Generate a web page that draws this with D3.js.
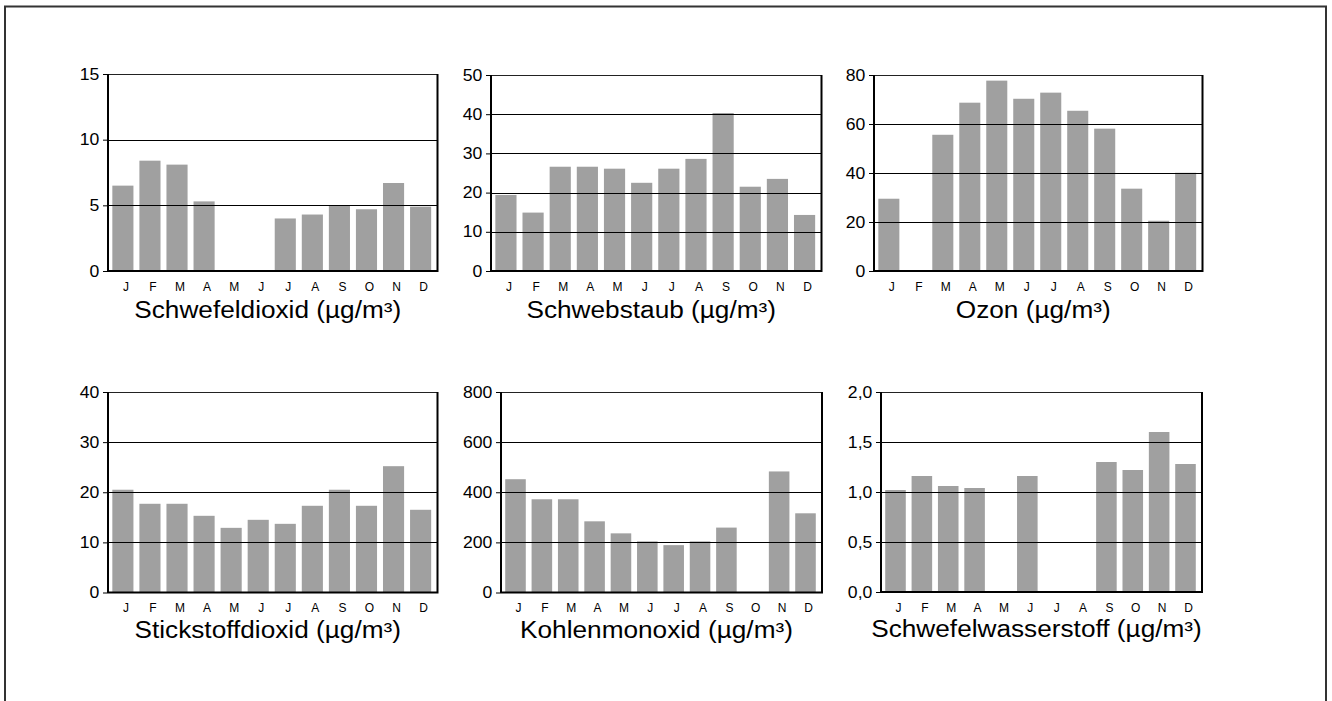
<!DOCTYPE html>
<html>
<head>
<meta charset="utf-8">
<script src="https://cdn.jsdelivr.net/npm/d3@7"></script>
<style>
  body { margin: 0; background: #fff; }
  svg { display: block; font-family: "Liberation Sans", Arial, sans-serif; }
</style>
</head>
<body>
<svg id="chart" width="1332" height="701"></svg>
<script>
// months on every x axis
var months = ["J", "F", "M", "A", "M", "J", "J", "A", "S", "O", "N", "D"];

// monthly means, null = no measurement
var schwefeldioxid = [6.5, 8.4, 8.1, 5.3, null, null, 4.0, 4.3, 5.0, 4.7, 6.7, 4.9];
var schwebstaub = [19.4, 14.9, 26.6, 26.6, 26.1, 22.5, 26.1, 28.6, 40.3, 21.5, 23.5, 14.3];
var ozon = [29.5, null, 55.6, 68.7, 77.7, 70.3, 72.8, 65.4, 58.1, 33.6, 20.5, 40.1];
var stickstoffdioxid = [20.5, 17.7, 17.7, 15.3, 12.9, 14.5, 13.7, 17.3, 20.5, 17.3, 25.2, 16.5];
var kohlenmonoxid = [452, 372, 372, 284, 236, 204, 189, 204, 259, null, 483, 316];
var schwefelwasserstoff = [1.02, 1.16, 1.06, 1.04, null, 1.16, null, null, 1.30, 1.22, 1.60, 1.28];

var titles = ["Schwefeldioxid (µg/m³)", "Schwebstaub (µg/m³)", "Ozon (µg/m³)",
  "Stickstoffdioxid (µg/m³)", "Kohlenmonoxid (µg/m³)", "Schwefelwasserstoff (µg/m³)"];
var yMax = [15, 50, 80, 40, 800, 2];
var yStep = [5, 10, 20, 10, 200, 0.5];

var series = [schwefeldioxid, schwebstaub, ozon, stickstoffdioxid, kohlenmonoxid, schwefelwasserstoff];

// plot boxes of the six panels
var boxes = [
  {x0: 108, x1: 437.5, y0: 74, y1: 271},
  {x0: 491, x1: 821.5, y0: 75, y1: 271},
  {x0: 874, x1: 1202.5, y0: 75, y1: 271},
  {x0: 108, x1: 437.5, y0: 392, y1: 592.5},
  {x0: 501, x1: 822, y0: 392, y1: 592.5},
  {x0: 881, x1: 1202, y0: 392, y1: 592}
];

var de = d3.formatLocale({decimal: ",", thousands: ".", grouping: [3], currency: ["", " €"]});

var svg = d3.select("#chart");

// outer frame, bottom edge runs off the page
svg.append("path")
  .attr("d", "M5,720 V6.5 H1326 V720")
  .attr("fill", "none")
  .attr("stroke", "#333")
  .attr("stroke-width", 2);

var titleNodes = [];

series.forEach(function(values, i){
  var b = boxes[i];
  var g = svg.append("g");

  var x = d3.scaleBand()
    .domain(d3.range(12))
    .range([b.x0, b.x1 - 2])
    .paddingInner(0.22)
    .paddingOuter(0.16);

  var y = d3.scaleLinear()
    .domain([0, yMax[i]])
    .range([b.y1, b.y0]);

  var ticks = d3.range(0, yMax[i] + yStep[i] / 2, yStep[i]);
  var fmt = yStep[i] < 1 ? de.format(".1f") : de.format("d");

  // bars
  g.selectAll("rect.bar")
    .data(values.map(function(v, k){ return {k: k, v: v}; }).filter(function(d){ return d.v != null; }))
    .enter().append("rect")
    .attr("class", "bar")
    .attr("x", function(d){ return x(d.k); })
    .attr("width", x.bandwidth())
    .attr("y", function(d){ return y(d.v); })
    .attr("height", function(d){ return y(0) - y(d.v); })
    .style("fill", "#a0a0a0");

  // grid lines
  g.selectAll("line.grid")
    .data(ticks.slice(1, -1))
    .enter().append("line")
    .attr("x1", b.x0).attr("x2", b.x1)
    .attr("y1", function(d){ return Math.round(y(d)) + 0.5; })
    .attr("y2", function(d){ return Math.round(y(d)) + 0.5; })
    .attr("stroke", "#000").attr("stroke-width", 1);

  // frame: thin top, heavier left / bottom / right
  g.append("line")
    .attr("x1", b.x0).attr("x2", b.x1)
    .attr("y1", b.y0 + 0.5).attr("y2", b.y0 + 0.5)
    .attr("stroke", "#222").attr("stroke-width", 1);
  g.append("path")
    .attr("d", "M" + b.x0 + "," + b.y0 + " V" + b.y1 + " H" + b.x1 + " V" + b.y0)
    .attr("fill", "none")
    .attr("stroke", "#000")
    .attr("stroke-width", 2);

  // y axis
  var yAxis = d3.axisLeft(y)
    .tickValues(ticks)
    .tickFormat(fmt)
    .tickSize(4)
    .tickPadding(3);
  var ya = g.append("g")
    .attr("transform", "translate(" + (b.x0 - 1) + ",0)")
    .call(yAxis);
  ya.select(".domain").remove();
  ya.selectAll("text")
    .style("font-size", "16px")
    .style("font-family", "Liberation Sans, Arial, sans-serif")
    .attr("fill", "#000")
    .attr("transform", "scale(1.1,1)");
  ya.selectAll("line").attr("stroke", "#000");

  // month labels
  g.selectAll("text.month")
    .data(months)
    .enter().append("text")
    .attr("class", "month")
    .attr("x", function(d, k){ return x(k) + x.bandwidth() / 2 + 3; })
    .attr("y", b.y1 + 19.5)
    .attr("text-anchor", "middle")
    .style("font-size", "12px")
    .text(function(d){ return d; });

  // title
  var t = g.append("text")
    .attr("x", (b.x0 + b.x1) / 2 - 5)
    .attr("y", b.y1 + (i < 3 ? 46.5 : 45))
    .attr("text-anchor", "middle")
    .style("font-size", "23px")
    .text(titles[i]);
  titleNodes.push(t);
});

// titles in the reference run a bit wider than plain Arial; stretch them all by one factor
var k = 267 / titleNodes[0].node().getComputedTextLength();
titleNodes.forEach(function(t){
  var w = t.node().getComputedTextLength();
  t.attr("textLength", w * k).attr("lengthAdjust", "spacingAndGlyphs");
});
</script>
</body>
</html>
